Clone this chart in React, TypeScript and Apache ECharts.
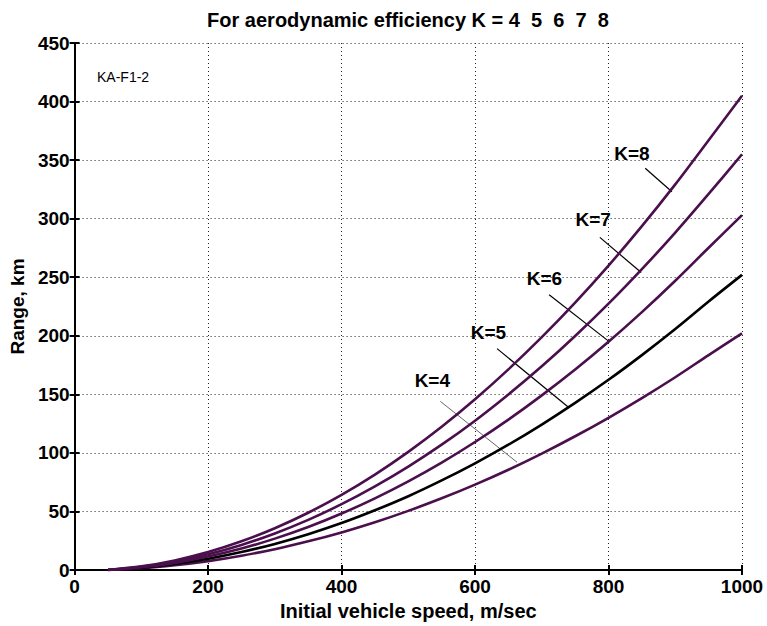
import React, { useEffect, useRef } from "react";
import * as echarts from "echarts";

const speeds = [50, 100, 150, 200, 250, 300, 350, 400, 450, 500, 550, 600, 650, 700, 750, 800, 850, 900, 950, 1000];
const rangeK4 = [0, 1.5, 4.1, 7.6, 12.2, 17.8, 24.5, 32.1, 40.8, 50.5, 61.2, 72.9, 85.6, 99.4, 114.2, 130, 146.8, 164.6, 183.5, 202];
const rangeK5 = [0, 1.9, 5.1, 9.6, 15.3, 22.3, 30.6, 40.1, 51, 63, 76.5, 91.1, 107, 124.2, 142.7, 162.4, 183.5, 205.8, 229.3, 252];
const rangeK6 = [0, 2.3, 6.1, 11.5, 18.3, 26.8, 36.7, 48.2, 61.2, 75.7, 91.7, 109.3, 128.4, 149.1, 171.2, 194.9, 220.2, 247, 275.2, 303];
const rangeK7 = [0, 2.7, 7.1, 13.4, 21.4, 31.2, 42.8, 56.2, 71.4, 88.3, 107, 127.5, 149.9, 173.9, 199.8, 227.4, 256.9, 288.1, 321.1, 355];
const rangeK8 = [0, 3.1, 8.2, 15.3, 24.5, 35.7, 48.9, 64.2, 81.5, 100.9, 122.3, 145.8, 171.3, 198.8, 228.3, 259.9, 293.6, 329.3, 367, 405];

const curveNames = ["K=4", "K=5", "K=6", "K=7", "K=8"];
const curveValues = [rangeK4, rangeK5, rangeK6, rangeK7, rangeK8];

// annotation label anchor points (speed, range) and leader lines
const labelPoints: [number, number][] = [[536, 162], [620, 203], [704, 249], [777, 299], [835, 356]];
const leaderLines: [number, number, number, number][] = [
  [548, 144, 663, 92],
  [633, 189, 740, 139],
  [711, 235, 801, 195],
  [787, 284, 849, 254],
  [855, 343, 895, 323],
];

const titleText = "For aerodynamic efficiency K = 4  5  6  7  8";
const xName = "Initial vehicle speed, m/sec";
const yName = "Range, km";
const tag = "KA-F1-2";

const FONT = "'Liberation Sans', Arial, sans-serif";
const PURPLE = "#4a0f4c";

export default function App() {
  const ref = useRef<HTMLDivElement>(null);
  useEffect(() => {
    document.body.style.margin = "0";
    const chart = echarts.init(ref.current!, null, { renderer: "svg" });
    const series: any[] = curveValues.map((vals, i) => ({
      name: curveNames[i],
      type: "line",
      data: speeds.map((s, j) => [s, vals[j]]),
      showSymbol: false,
      smooth: 0.3,
      xAxisIndex: 0,
      yAxisIndex: 0,
      lineStyle: { color: i === 1 ? "#000000" : PURPLE, width: 2.6 },
      z: 3,
    }));
    leaderLines.forEach((l, i) => {
      series.push({
        type: "line",
        data: [[l[0], l[1]], [l[2], l[3]]],
        showSymbol: false,
        silent: true,
        lineStyle: { color: i === 0 ? "#555555" : "#000000", width: i === 0 ? 0.9 : 1.2 },
        z: 2,
      });
    });
    series.push({
      type: "scatter",
      data: labelPoints.map((p, i) => ({ value: p, name: curveNames[i] })),
      symbolSize: 1,
      itemStyle: { color: "rgba(0,0,0,0)", opacity: 1 },
      silent: true,
      z: 5,
      label: {
        show: true,
        position: "inside",
        formatter: (p: any) => p.name,
        fontFamily: FONT,
        fontWeight: "bold",
        fontSize: 19,
        color: "#000000",
        textBorderWidth: 0,
      },
    });

    const axisCommon = {
      min: 0,
      axisLine: { show: true, lineStyle: { color: "#000", width: 2 } },
      axisTick: { show: true, inside: true, length: 5, lineStyle: { color: "#000", width: 2 } },
    };
    const labelFmt = (v: number) => String(v);

    chart.setOption({
      animation: false,
      backgroundColor: "#ffffff",
      grid: { left: 74, right: 25, top: 43, bottom: 56 },
      graphic: [
        {
          type: "text",
          x: 408,
          y: 20,
          style: {
            text: titleText,
            textAlign: "center",
            textVerticalAlign: "middle",
            fontFamily: FONT,
            fontWeight: "bold",
            fontSize: 20,
            fill: "#000",
          },
        },
        {
          type: "text",
          x: 97,
          y: 77,
          style: {
            text: tag,
            textAlign: "left",
            textVerticalAlign: "middle",
            fontFamily: FONT,
            fontSize: 14,
            fill: "#000",
          },
        },
      ],
      xAxis: [
        {
          ...axisCommon,
          type: "value",
          position: "bottom",
          max: 1000,
          interval: 200,
          name: xName,
          nameLocation: "middle",
          nameGap: 29,
          nameTextStyle: { fontFamily: FONT, fontWeight: "bold", fontSize: 20, color: "#000" },
          axisLabel: { fontFamily: FONT, fontWeight: "bold", fontSize: 19, color: "#000", margin: 7, formatter: labelFmt },
          splitLine: { show: true, lineStyle: { color: "#222", type: [1, 3], width: 1 } },
        },
        {
          ...axisCommon,
          type: "value",
          position: "top",
          max: 1000,
          interval: 200,
          axisLabel: { show: false },
          splitLine: { show: false },
        },
      ],
      yAxis: [
        {
          ...axisCommon,
          type: "value",
          position: "left",
          max: 450,
          interval: 50,
          name: yName,
          nameLocation: "middle",
          nameGap: 44,
          nameTextStyle: { fontFamily: FONT, fontWeight: "bold", fontSize: 19, color: "#000" },
          axisLabel: { fontFamily: FONT, fontWeight: "bold", fontSize: 19, color: "#000", margin: 5, formatter: labelFmt },
          splitLine: { show: true, lineStyle: { color: "#222", type: [1, 3], width: 1 } },
        },
        {
          ...axisCommon,
          type: "value",
          position: "right",
          max: 450,
          interval: 50,
          axisLabel: { show: false },
          splitLine: { show: false },
        },
      ],
      series,
    });
    return () => chart.dispose();
  }, []);
  return <div ref={ref} style={{ width: 767, height: 626 }} />;
}
